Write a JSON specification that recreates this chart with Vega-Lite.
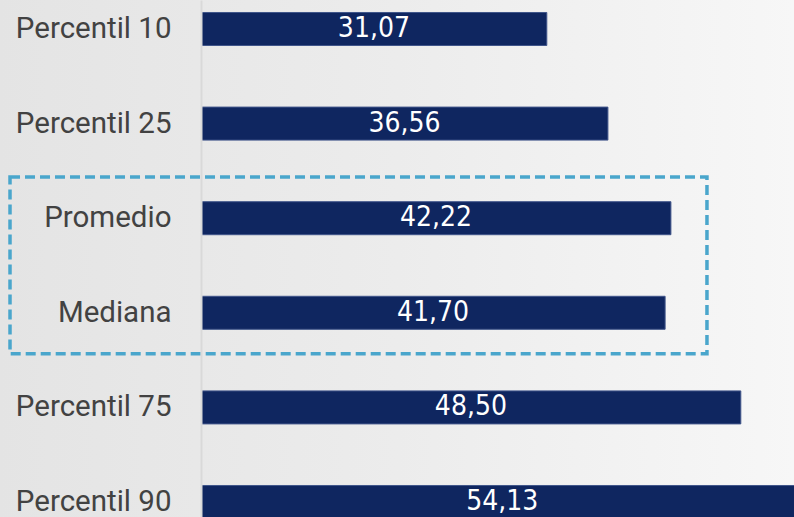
{
  "$schema": "https://vega.github.io/schema/vega-lite/v6.json",
  "width": 593,
  "height": 517,
  "autosize": {"type": "none"},
  "padding": {"left": 201, "top": 0, "right": 0, "bottom": 0},
  "background": "#e6e6e6",
  "config": {
    "view": {"stroke": null},
    "locale": {"number": {"decimal": ",", "thousands": ".", "grouping": [3], "currency": ["", " €"]}}
  },
  "data": {
    "values": [
      {"category": "Percentil 10", "value": 31.07},
      {"category": "Percentil 25", "value": 36.56},
      {"category": "Promedio", "value": 42.22},
      {"category": "Mediana", "value": 41.70},
      {"category": "Percentil 75", "value": 48.50},
      {"category": "Percentil 90", "value": 54.13}
    ]
  },
  "encoding": {
    "y": {
      "field": "category",
      "type": "nominal",
      "sort": null,
      "scale": {
        "domain": ["Percentil 10", "Percentil 25", "Promedio", "Mediana", "Percentil 75", "Percentil 90"],
        "range": [0, 531],
        "paddingInner": 0.651,
        "paddingOuter": 0.132
      },
      "axis": {
        "title": null,
        "ticks": false,
        "zindex": 1,
        "domainColor": "#d9d9d9",
        "domainWidth": 2,
        "labelFont": "Roboto",
        "labelFontSize": 29.5,
        "labelColor": "#424242",
        "labelPadding": 30,
        "labelLimit": 0
      }
    }
  },
  "layer": [
    {
      "data": {"values": [{"first": "Percentil 10", "last": "Percentil 90"}]},
      "mark": {
        "type": "rect",
        "clip": false,
        "fill": {
          "gradient": "linear", "x1": 0, "y1": 0, "x2": 1, "y2": 0,
          "stops": [
            {"offset": 0, "color": "#e4e4e4"},
            {"offset": 0.5, "color": "#ececec"},
            {"offset": 1, "color": "#f7f7f7"}
          ]
        }
      },
      "encoding": {
        "x": {"datum": -18.2, "type": "quantitative", "scale": {"domain": [0, 53.28], "nice": false, "zero": false}, "axis": null},
        "x2": {"datum": 53.4},
        "y": {"field": "first", "type": "nominal", "bandPosition": -1},
        "y2": {"field": "last", "bandPosition": 2}
      }
    },
    {
      "mark": {"type": "bar", "color": "#0f2660", "stroke": "#40558a", "strokeWidth": 1, "clip": true},
      "encoding": {
        "x": {"field": "value", "type": "quantitative", "axis": null}
      }
    },
    {
      "transform": [{"calculate": "datum.value/2", "as": "mid"}],
      "mark": {"type": "text", "color": "white", "font": "DejaVu Sans Condensed, Roboto", "fontSize": 28},
      "encoding": {
        "x": {"field": "mid", "type": "quantitative"},
        "text": {"field": "value", "type": "quantitative", "format": ".2f"}
      }
    },
    {
      "data": {"values": [{"first": "Promedio", "last": "Mediana"}]},
      "mark": {"type": "rect", "fill": null, "stroke": "#4aa6cc", "strokeWidth": 3.5, "strokeDash": [10, 5], "clip": false},
      "encoding": {
        "x": {"datum": -17.16, "type": "quantitative"},
        "x2": {"datum": 45.46},
        "y": {"field": "first", "type": "nominal", "bandPosition": -0.746},
        "y2": {"field": "last", "bandPosition": 1.743}
      }
    }
  ]
}
